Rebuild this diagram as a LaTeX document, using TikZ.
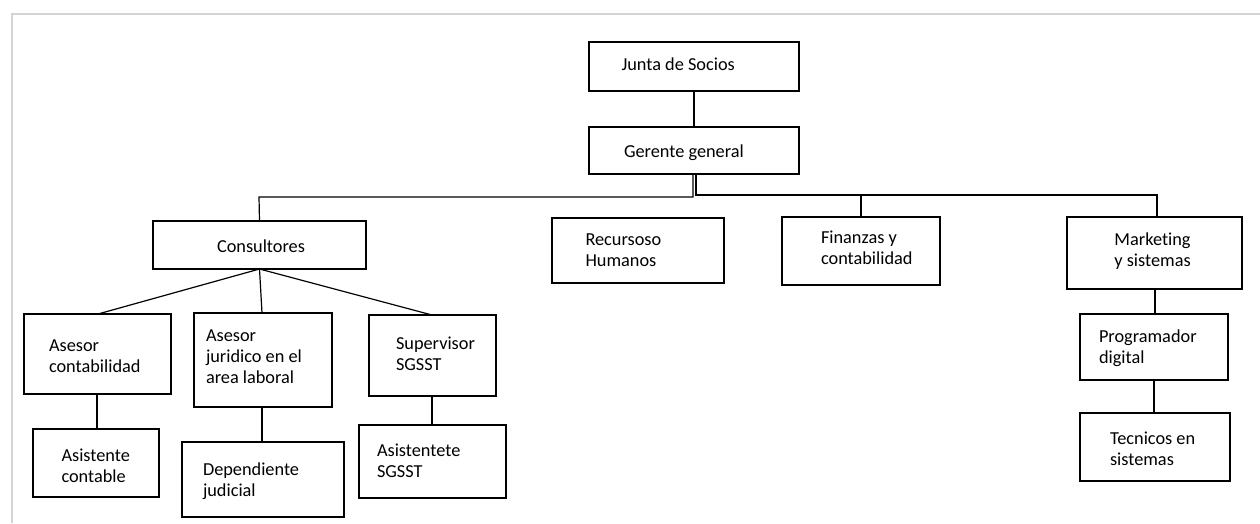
\documentclass[tikz,border=0pt]{standalone}
\usepackage{fontspec}
\setmainfont{Carlito}[Ligatures=NoCommon]
\begin{document}
\begin{tikzpicture}[x=1pt,y=-1pt,
  boxst/.style={draw=black,line width=1.2pt,inner sep=0pt,outer sep=0pt,anchor=north west},
  txt/.style={inner sep=0pt,outer sep=0pt,align=left,anchor=west,font=\fontsize{18.3}{20.8}\selectfont},
  ctxt/.style={inner sep=0pt,outer sep=0pt,align=center,anchor=center,font=\fontsize{18.3}{20.8}\selectfont},
  link/.style={draw=black,line width=1.2pt},
  frame/.style={draw=black!17,line width=2pt}]
\useasboundingbox (0,0) rectangle (1260,523);
\newcommand\orgbox[5]{%
  \node[boxst,minimum width={(#4-#2)*1pt},minimum height={(#5-#3)*1pt}] (#1) at (#2,#3) {};}
% frame
\coordinate (fa) at (11.5,523);
\coordinate (fb) at (11.5,13.5);
\coordinate (fc) at (1260,13.5);
\draw[frame] (fa) -- (fb) -- (fc);
% boxes
\orgbox{junta}{589}{42}{799}{91}
\orgbox{gerente}{589}{127}{799}{174}
\orgbox{consult}{153}{221}{366}{269}
\orgbox{recurs}{552}{218}{724}{283}
\orgbox{finanz}{782}{217}{940}{285}
\orgbox{market}{1067}{217}{1242}{289}
\orgbox{asesorC}{24}{314}{171}{394}
\orgbox{asesorJ}{194}{313}{332}{407}
\orgbox{superv}{369}{315}{496}{396}
\orgbox{asistC}{33}{429}{159}{497}
\orgbox{depend}{182}{442}{344}{517}
\orgbox{asistS}{359}{425}{506}{498}
\orgbox{program}{1080}{314}{1228}{380}
\orgbox{tecnic}{1080}{413}{1230}{481}
% texts
\node[txt] (juntaT) at (621.5,64.5) {Junta de Socios};
\node[txt] (gerenteT) at (624,152.5) {Gerente general};
\node[ctxt] (consultT) at (261,246) {Consultores};
\node[txt] (recursT) at (585.5,250.5) {Recursoso\\Humanos};
\node[txt] (finanzT) at (821,247.5) {Finanzas y\\contabilidad};
\node[ctxt] (marketT) at (1152.5,251.5) {Marketing\\y sistemas};
\node[txt] (asesorCT) at (49,356.5) {Asesor\\contabilidad};
\node[txt] (asesorJT) at (206,356.5) {Asesor\\juridico en el\\area laboral};
\node[txt] (supervT) at (396,353.5) {Supervisor\\SGSST};
\node[txt] (asistCT) at (61.5,465.5) {Asistente\\contable};
\node[txt] (dependT) at (203,481.5) {Dependiente\\judicial};
\node[txt] (asistST) at (377,461) {Asistentete\\SGSST};
\node[txt] (programT) at (1099,348.5) {Programador\\digital};
\node[txt] (tecnicT) at (1110,448.5) {Tecnicos en\\sistemas};
% connectors
\draw[link] (junta.south) -- (gerente.north);
\coordinate (gl) at (693,174);
\coordinate (gr) at (696,174);
\coordinate (mk) at (1157,217);
\draw[link] (gl) |- (259,197) -- (consult.north);
\draw[link] (gr) |- (mk |- 0,195) -- (mk);
\draw[link] (finanz.north |- 0,195) -- (finanz.north);
\coordinate (acT) at (98,314);
\coordinate (ajT) at (262,313);
\coordinate (svT) at (432,315);
\draw[link] (consult.south) -- (acT);
\draw[link] (consult.south) -- (ajT);
\draw[link] (consult.south) -- (svT);
\draw[link] (asesorC.south -| 97,0) -- (asistC.north -| 97,0);
\draw[link] (asesorJ.south -| 262,0) -- (depend.north -| 262,0);
\draw[link] (superv.south -| 432,0) -- (asistS.north -| 432,0);
\draw[link] (market.south -| 1155,0) -- (program.north -| 1155,0);
\draw[link] (program.south -| 1154,0) -- (tecnic.north -| 1154,0);
\end{tikzpicture}
\end{document}
